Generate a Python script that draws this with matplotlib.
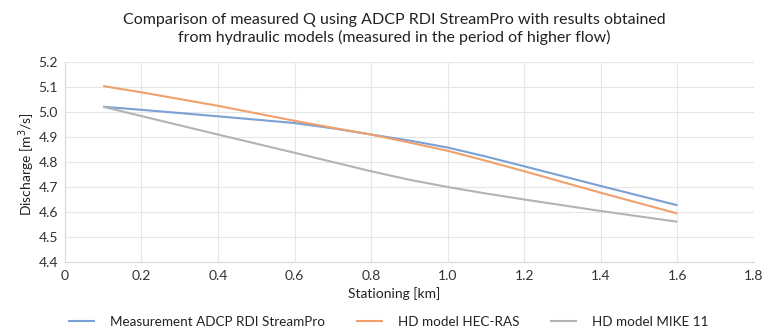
import matplotlib
matplotlib.use("Agg")
import matplotlib.pyplot as plt

plt.rcParams['font.family'] = ['Lato', 'DejaVu Sans']

stations = [0.1, 0.2, 0.4, 0.6, 0.7, 0.8, 0.9, 1.0, 1.1, 1.2, 1.4, 1.6]
adcp = [5.021, 5.009, 4.983, 4.956, 4.935, 4.910, 4.886, 4.858, 4.822, 4.783, 4.704, 4.627]
hecras = [5.104, 5.079, 5.025, 4.965, 4.937, 4.910, 4.878, 4.845, 4.805, 4.763, 4.677, 4.594]
mike11 = [5.021, 4.984, 4.910, 4.837, 4.800, 4.763, 4.729, 4.700, 4.674, 4.650, 4.604, 4.561]

labels = ['Measurement ADCP RDI StreamPro', 'HD model HEC-RAS', 'HD model MIKE 11']
colors = ['#7aa0d4', '#f0a06c', '#b3b3b3']
xticks = [0, 0.2, 0.4, 0.6, 0.8, 1.0, 1.2, 1.4, 1.6, 1.8]
xticklabels = ['0', '0.2', '0.4', '0.6', '0.8', '1.0', '1.2', '1.4', '1.6', '1.8']
yticks = [4.4, 4.5, 4.6, 4.7, 4.8, 4.9, 5.0, 5.1, 5.2]

fig = plt.figure(figsize=(7.63, 3.32), dpi=100)
ax = fig.add_axes([0.085, 0.211, 0.903, 0.602])

for vals, lab, c in zip([adcp, hecras, mike11], labels, colors):
    ax.plot(stations, vals, color=c, lw=1.5, label=lab, solid_capstyle='butt',
            solid_joinstyle='round')

ax.set_xlim(0, 1.8)
ax.set_ylim(4.4, 5.2)
ax.set_xticks(xticks)
ax.set_xticklabels(xticklabels)
ax.set_yticks(yticks)
ax.set_yticklabels([f'{v:.1f}' for v in yticks])
ax.grid(True, color='#e6e6e6', lw=0.8)
ax.set_axisbelow(True)
for s in ['top', 'right']:
    ax.spines[s].set_visible(False)
for s in ['left', 'bottom']:
    ax.spines[s].set_color('#d9d9d9')
ax.tick_params(length=0, labelsize=10, colors='#333333', pad=5)
ax.tick_params(axis='x', pad=6)

fig.text(0.517, 0.94, 'Comparison of measured Q using ADCP RDI StreamPro with results obtained',
         ha='center', va='center', fontsize=11.5, color='#222222')
fig.text(0.517, 0.886, 'from hydraulic models (measured in the period of higher flow)',
         ha='center', va='center', fontsize=11.5, color='#222222')
fig.text(0.516, 0.117, 'Stationing [km]', ha='center', va='center', fontsize=10, color='#222222')
fig.text(0.035, 0.506, 'Discharge [m$^3$/s]', ha='center', va='center', rotation=90, fontsize=10, color='#222222')

fig.legend(loc='center', bbox_to_anchor=(0.509, 0.03), ncol=3, frameon=False,
           fontsize=9.7, handlelength=2.0, columnspacing=2.3, handletextpad=1.1,
           labelcolor='#222222', borderaxespad=0, borderpad=0)

fig.savefig('out.png', dpi=100)
